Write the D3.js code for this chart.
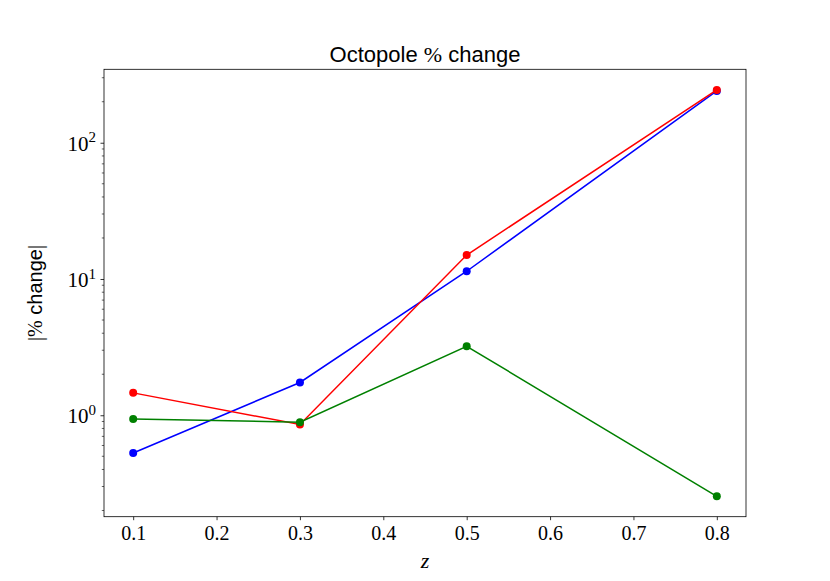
<!DOCTYPE html>
<html><head><meta charset="utf-8">
<script src="https://cdn.jsdelivr.net/npm/d3@7"></script>
<style>body{margin:0;background:#fff}</style>
</head><body>
<svg id="c" width="830" height="581"></svg>
<script>
const zValues = [0.1, 0.3, 0.5, 0.8];
const blueSeries = [0.528, 1.74, 11.4, 240];
const redSeries = [1.46, 0.855, 15.0, 244];
const greenSeries = [0.939, 0.889, 3.21, 0.254];
const xTicks = [0.1, 0.2, 0.3, 0.4, 0.5, 0.6, 0.7, 0.8];
const yMajorTicks = [1, 10, 100];
const yTickLabels = ["0", "1", "2"];
const series = [
  {name: "blue", values: blueSeries, color: "#0000ff"},
  {name: "red", values: redSeries, color: "#ff0000"},
  {name: "green", values: greenSeries, color: "#008000"}
];

const L = 104, R = 746, T = 69.3, B = 516.7;
const svg = d3.select("#c");
const x = d3.scaleLinear().domain([0.065, 0.835]).range([L, R]);
const y = d3.scaleLog().domain([Math.pow(10, -0.7445), Math.pow(10, 2.539)]).range([B, T]);

const serif = "'Liberation Serif','DejaVu Serif',serif";
// x axis
const xa = svg.append("g").attr("transform", `translate(0,${B})`)
  .call(d3.axisBottom(x).tickValues(xTicks).tickFormat(d3.format(".1f")).tickSizeOuter(0).tickSizeInner(3.5).tickPadding(6));
xa.select(".domain").remove();
xa.selectAll("line").attr("stroke", "#000").attr("stroke-width", 0.8);
xa.selectAll("text").attr("font-family", serif).attr("font-size", 20).attr("fill", "#000");

// y axis major
const ya = svg.append("g").attr("transform", `translate(${L},0)`)
  .call(d3.axisLeft(y).tickValues(yMajorTicks).tickFormat(() => "").tickSizeOuter(0).tickSizeInner(3.5));
ya.select(".domain").remove();
ya.selectAll("line").attr("stroke", "#000").attr("stroke-width", 0.8);
ya.selectAll(".tick").each(function(d, i) {
  const t = d3.select(this).append("text").attr("x", -8).attr("dy", "0.35em")
    .attr("text-anchor", "end").attr("font-family", serif).attr("font-size", 21).attr("fill", "#000");
  t.append("tspan").text("10");
  t.append("tspan").attr("font-size", 15).attr("dy", "-0.55em").text(yTickLabels[i]);
});
// minor ticks
const minors = [];
for (let e = -1; e <= 2; e++) for (let m = 2; m <= 9; m++) {
  const v = m * Math.pow(10, e);
  if (v >= y.domain()[0] && v <= y.domain()[1]) minors.push(v);
}
svg.append("g").selectAll("line").data(minors).join("line")
  .attr("x1", L - 2.2).attr("x2", L).attr("y1", d => y(d)).attr("y2", d => y(d))
  .attr("stroke", "#000").attr("stroke-width", 0.6);

// frame
svg.append("rect").attr("x", L).attr("y", T).attr("width", R - L).attr("height", B - T)
  .attr("fill", "none").attr("stroke", "#000").attr("stroke-width", 0.8);

// lines
const line = d3.line().x((d, i) => x(zValues[i])).y(d => y(d));
series.forEach(s => {
  svg.append("path").datum(s.values).attr("d", line).attr("fill", "none")
    .attr("stroke", s.color).attr("stroke-width", 1.5);
  svg.append("g").selectAll("circle").data(s.values).join("circle")
    .attr("cx", (d, i) => x(zValues[i])).attr("cy", d => y(d)).attr("r", 4).attr("fill", s.color);
});

// title
const title = svg.append("text").attr("x", (L + R) / 2).attr("y", 62).attr("text-anchor", "middle")
  .attr("font-family", "'Liberation Sans',Arial,sans-serif").attr("font-size", 22).attr("fill", "#000");
title.append("tspan").text("Octopole ");
title.append("tspan").attr("font-family", serif).text("%");
title.append("tspan").text(" change");

// x label
svg.append("text").attr("x", (L + R) / 2).attr("y", 568).attr("text-anchor", "middle")
  .attr("font-family", serif).attr("font-style", "italic").attr("font-size", 22).attr("fill", "#000").text("z");

// y label
const yl = svg.append("text").attr("transform", `translate(42,${(T + B) / 2}) rotate(-90)`).attr("text-anchor", "middle")
  .attr("font-family", "'Liberation Sans',Arial,sans-serif").attr("font-size", 20).attr("fill", "#000");
yl.append("tspan").attr("font-family", serif).text("|%");
yl.append("tspan").text(" change");
yl.append("tspan").attr("font-family", serif).text("|");
</script>
</body></html>
